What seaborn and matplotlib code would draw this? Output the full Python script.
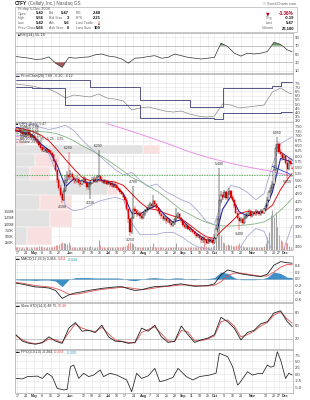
import numpy as np
import pandas as pd
import matplotlib
matplotlib.use("Agg")
import matplotlib.pyplot as plt
from matplotlib.ticker import NullLocator, NullFormatter
from matplotlib.patches import Rectangle
import seaborn as sns

sns.set_theme(style="white")
plt.rcParams['font.family'] = ['Liberation Sans', 'DejaVu Sans']

# ---------------- data ----------------
dates = pd.bdate_range("2008-04-16", "2008-12-05")

opens = [7.35,7.30,7.25,7.35,7.20,7.10,7.15,7.05,7.20,7.10,6.95,
         7.00,6.90,6.80,6.70,6.55,6.45,6.25,6.35,6.20,6.30,6.25,6.15,
         6.05,5.80,5.40,5.00,4.70,4.50,4.30,4.60,5.00,5.20,5.10,
         5.25,5.10,5.00,4.95,5.05,4.90,4.85,4.95,5.05,4.90,4.75,4.80,4.90,5.00,5.05,4.95,5.10,5.15,
         5.05,5.00,4.90,4.95,4.85,4.90,4.80,4.85,4.75,
         4.80,4.70,4.65,4.55,4.50,4.40,
         4.30,4.00,3.70,3.35,3.75,
         4.00,3.95,3.85,3.90,3.80,3.75,3.85,
         3.95,4.00,4.05,4.15,4.10,4.25,4.15,
         4.05,3.95,3.85,3.80,3.70,3.75,3.65,3.70,3.60,3.55,
         3.60,3.70,3.80,3.85,3.75,
         3.65,3.55,3.50,3.52,3.45,3.40,3.42,3.35,3.30,3.25,3.28,3.20,
         3.15,3.20,3.15,3.10,3.18,3.12,3.15,
         3.10,3.20,3.45,3.70,4.30,4.45,4.40,4.55,4.35,4.50,4.60,4.40,
         4.30,4.10,3.90,3.75,3.65,3.70,3.60,3.75,
         3.80,3.85,3.95,3.80,3.90,3.85,3.95,3.90,3.85,3.95,3.90,
         4.00,4.10,4.30,4.55,4.70,
         4.85,5.40,6.40,6.60,
         6.20,6.10,5.90,6.00,5.70,5.45,5.80,5.42]
highs = [7.45,7.40,7.45,7.40,7.25,7.25,7.20,7.30,7.25,7.15,7.10,
         7.05,6.95,6.85,6.75,6.60,6.50,6.45,6.40,6.40,6.35,6.30,6.20,
         6.10,5.85,5.45,5.05,4.80,4.55,4.70,5.20,5.35,6.20,5.40,
         5.30,5.15,5.10,5.15,5.10,4.95,5.05,5.15,5.10,4.95,4.90,4.95,5.10,5.15,5.10,5.20,6.29,5.20,
         5.10,5.05,5.05,5.00,5.00,4.95,4.95,4.90,4.90,
         4.85,4.78,4.70,4.60,4.55,4.45,
         4.35,4.05,3.75,3.85,4.78,
         4.10,4.00,3.98,3.95,3.85,3.92,4.02,
         4.08,4.12,4.22,4.20,4.45,4.30,4.18,
         4.08,3.98,3.90,3.85,3.80,3.78,3.75,3.72,3.65,3.65,
         3.75,4.05,3.92,3.88,3.78,
         3.68,3.58,3.58,3.55,3.50,3.48,3.45,3.38,3.33,3.32,3.30,3.23,
         3.25,3.24,3.18,3.22,3.20,3.20,3.18,
         3.30,3.55,3.80,5.48,4.60,4.55,4.65,4.60,4.60,4.70,4.65,4.45,
         4.35,4.15,3.95,3.80,3.78,3.75,3.82,3.88,
         3.92,4.02,3.98,3.96,3.94,4.00,3.98,3.94,4.00,3.98,4.05,
         4.18,4.38,4.62,4.80,4.95,
         5.60,6.60,6.95,6.70,
         6.35,6.15,6.10,6.05,5.75,5.90,5.90,5.56]
lows = [7.20,7.15,7.20,7.10,7.00,7.05,6.95,7.00,7.00,6.90,6.90,
        6.80,6.70,6.60,6.45,6.30,6.20,6.20,6.15,6.15,6.10,6.05,5.95,
        5.70,5.30,4.90,4.60,4.35,4.19,4.25,4.55,4.90,5.00,5.00,
        5.00,4.90,4.85,4.90,4.80,4.75,4.80,4.90,4.85,4.65,4.65,4.33,4.85,4.95,4.90,4.90,5.05,4.95,
        4.90,4.85,4.85,4.80,4.80,4.75,4.75,4.70,4.70,
        4.65,4.60,4.50,4.45,4.35,4.20,
        3.95,3.60,3.25,3.30,3.70,
        3.85,3.78,3.80,3.72,3.68,3.70,3.80,
        3.90,3.95,4.00,4.02,4.05,4.08,3.98,
        3.88,3.80,3.72,3.65,3.65,3.58,3.60,3.55,3.50,3.50,
        3.55,3.65,3.75,3.70,3.60,
        3.50,3.45,3.45,3.40,3.35,3.35,3.30,3.25,3.20,3.20,3.15,3.10,
        3.10,3.08,3.05,3.06,3.06,3.08,3.04,
        3.06,3.18,3.40,3.65,4.20,4.30,4.35,4.30,4.30,4.45,4.35,4.22,
        4.05,3.85,3.68,3.40,3.60,3.55,3.58,3.70,
        3.75,3.80,3.75,3.76,3.80,3.80,3.84,3.80,3.80,3.85,3.86,
        3.95,4.05,4.25,4.45,4.60,
        4.80,5.35,6.20,6.10,
        5.95,5.80,5.85,5.60,5.05,5.40,5.55,5.42]
closes = [7.30,7.25,7.35,7.20,7.10,7.15,7.05,7.20,7.10,6.95,7.00,
          6.90,6.80,6.70,6.55,6.40,6.30,6.35,6.25,6.30,6.20,6.15,6.05,
          5.80,5.40,5.00,4.70,4.45,4.30,4.60,5.00,5.20,5.10,5.25,
          5.10,5.00,4.95,5.05,4.90,4.85,4.95,5.05,4.90,4.75,4.80,4.90,5.00,5.05,4.95,5.10,5.15,5.05,
          5.00,4.90,4.95,4.85,4.90,4.80,4.85,4.75,4.80,
          4.70,4.65,4.55,4.50,4.40,4.30,
          4.00,3.70,3.35,3.75,4.00,
          3.95,3.85,3.90,3.80,3.75,3.85,3.95,
          4.00,4.05,4.15,4.10,4.25,4.15,4.05,
          3.95,3.85,3.80,3.70,3.75,3.65,3.70,3.60,3.55,3.60,
          3.70,3.80,3.85,3.75,3.65,
          3.55,3.50,3.52,3.45,3.40,3.42,3.35,3.30,3.25,3.28,3.20,3.15,
          3.20,3.15,3.10,3.18,3.12,3.15,3.10,
          3.20,3.45,3.70,4.30,4.45,4.40,4.55,4.35,4.50,4.60,4.40,4.30,
          4.10,3.90,3.75,3.65,3.70,3.60,3.75,3.80,
          3.85,3.95,3.80,3.90,3.85,3.95,3.90,3.85,3.95,3.90,4.00,
          4.10,4.30,4.55,4.70,4.85,
          5.40,6.40,6.60,6.20,
          6.10,5.90,6.00,5.70,5.45,5.80,5.66,5.47]
volume_k = [120,90,110,80,100,70,90,110,80,95,70,
            85,100,90,130,150,110,90,80,95,100,85,120,
            150,200,180,220,260,300,250,280,220,320,180,
            120,100,90,80,110,100,90,85,95,120,100,150,90,80,100,120,380,200,
            110,90,80,100,85,90,100,80,95,
            100,90,110,120,130,150,
            200,260,300,280,220,
            150,120,100,90,110,100,90,
            100,120,150,110,250,120,100,
            90,100,110,90,80,100,90,85,95,100,
            110,250,120,100,90,
            100,90,80,95,110,90,100,120,110,90,100,130,
            120,500,150,110,100,120,140,
            200,450,800,1100,600,300,250,200,220,180,200,150,
            160,180,200,250,150,130,120,110,
            100,110,90,100,120,110,100,90,110,100,150,
            250,500,700,1400,1600,
            1300,1500,900,600,
            400,350,150,300,250,150,100,23.1]

# indicator lines sampled every 5 sessions (plus the last session)
g5 = list(range(0, 166, 5)) + [167]
ema9 = [7.28,7.18,7.05,6.60,6.28,5.60,4.75,5.05,4.95,4.88,5.02,4.93,4.82,4.50,3.88,3.86,4.00,4.12,
        3.82,3.62,3.70,3.48,3.30,3.16,3.15,4.00,4.42,3.92,3.80,3.89,3.94,4.55,5.90,5.78,5.66]
ma20 = [7.45,7.38,7.25,7.05,6.75,6.30,5.85,5.45,5.10,4.98,4.97,4.96,4.92,4.80,4.50,4.22,4.02,3.98,
        3.88,3.80,3.72,3.55,3.38,3.24,3.20,3.42,3.62,3.86,3.94,3.90,3.93,4.12,4.65,5.10,5.25]
ma50 = [7.33,7.30,7.27,7.24,7.20,7.12,6.95,6.75,6.50,6.30,6.08,5.85,5.60,5.35,5.10,4.95,4.78,4.60,
        4.40,4.18,3.98,3.85,3.72,3.62,3.55,3.52,3.52,3.53,3.55,3.58,3.63,3.76,3.97,4.22,4.35]
ma200 = [np.nan]*11 + [7.70,7.55,7.40,7.25,7.10,6.95,6.80,6.65,6.50,6.35,6.20,6.08,5.97,5.86,
                       5.77,5.68,5.60,5.53,5.46,5.40,5.33,5.25,5.18,5.15]
bb_up = [7.75,7.70,7.62,7.48,7.35,7.45,7.60,7.30,6.80,6.40,6.05,5.72,5.42,5.20,5.30,5.00,4.75,4.85,
         4.60,4.45,4.30,4.20,3.95,3.65,3.55,4.40,4.80,4.72,4.55,4.30,4.50,5.60,6.60,6.85,6.95]
bb_lo = [7.05,7.00,6.85,6.55,6.10,5.20,4.10,3.95,4.00,4.12,4.25,4.32,4.38,4.30,3.60,3.30,3.30,3.30,
         3.35,3.35,3.25,3.10,3.00,2.96,2.92,2.60,2.55,2.95,3.25,3.45,3.38,2.90,2.75,3.30,3.55]
# second panel (price channel)
pc_up = [7.80]*9 + [7.03]*6 + [5.49]*6 + [4.66]*4 + [6.91]*6 + [7.14] + [7.68]*3
pc_lo = [7.03,6.97,6.91,6.91,6.91,6.91] + [4.89]*9 + [3.41]*9 + [3.23] + [3.95]*7 + [4.12]*3
pc_px = [7.38,7.26,7.14,6.91,6.79,6.32,5.72,6.08,5.96,5.84,6.20,5.72,5.60,5.37,4.30,4.54,4.66,4.42,
         4.18,4.06,4.18,3.83,3.59,3.47,3.59,5.01,4.89,4.54,4.66,4.77,4.89,6.43,6.91,6.32,6.20]

# oscillators sampled every 4 sessions (plus the last session)
g4 = list(range(0, 165, 4)) + [167]
rsi = [44,42,40,37,38,43,28,18,42,40,42,43,48,50,45,43,38,28,40,41,44,46,40,42,50,46,42,40,38,40,42,
       76,68,52,45,52,50,52,56,78,73,60,55.18]
macd = [-0.12,-0.15,-0.19,-0.23,-0.24,-0.26,-0.33,-0.56,-0.46,-0.40,-0.37,-0.33,-0.30,-0.27,-0.25,
        -0.23,-0.22,-0.28,-0.33,-0.31,-0.26,-0.22,-0.21,-0.20,-0.16,-0.14,-0.18,-0.21,-0.20,-0.19,
        -0.14,0.12,0.26,0.21,0.15,0.12,0.09,0.07,0.14,0.40,0.50,0.47,0.455]
macd_sig = [-0.10,-0.12,-0.16,-0.19,-0.21,-0.23,-0.27,-0.34,-0.44,-0.44,-0.41,-0.37,-0.33,-0.30,-0.28,
            -0.26,-0.24,-0.25,-0.28,-0.30,-0.29,-0.26,-0.23,-0.21,-0.19,-0.17,-0.17,-0.19,-0.20,-0.20,
            -0.18,-0.08,0.10,0.17,0.17,0.14,0.11,0.08,0.09,0.20,0.34,0.42,0.411]
sto_k = [30,15,10,8,12,25,15,10,45,58,38,40,35,52,25,15,14,10,12,45,38,52,25,12,15,50,30,12,18,22,30,
         70,60,45,18,35,40,55,60,80,85,60,48.75]
sto_d = [28,18,12,9,11,20,18,12,35,55,45,40,37,47,32,18,15,12,11,35,42,48,32,16,14,40,36,16,16,20,27,
         60,64,50,25,30,38,50,58,75,83,66,56.48]
ppo_idx = [0,4,7,13,16,19,22,25,29,31,33,35,38,41,44,47,51,53,57,61,67,70,73,76,80,84,87,91,95,98,
           103,107,111,117,121,123,128,131,134,135,140,143,147,149,152,154,156,158,160,163,165,167]
ppo_val = [-1.6,-1.8,-0.9,-0.7,-1.6,0.4,-0.9,-5.5,-6.1,-5.9,3.0,3.6,-1.6,0.4,-0.9,-0.3,1.7,-0.9,0.4,
           -0.3,-2.2,-6.8,0.4,-1.6,-0.6,2.3,-2.9,-2.2,-1.2,2.3,-0.9,-2.2,-0.9,-0.3,0.4,8.2,6.9,3.0,
           -4.2,-3.6,1.0,-0.3,0.4,0.2,3.6,2.8,3.2,8.8,5.6,-1.6,0.4,-0.304]

# volume-by-price zones (price range, down volume, up volume in millions)
vbp_lo = [6.54, 6.10, 5.53, 5.00, 4.46, 3.98, 3.50, 3.05]
vbp_hi = [6.95, 6.54, 6.10, 5.53, 5.00, 4.46, 3.98, 3.50]
vbp_dn = [0.00, 5.52, 0.86, 0.65, 4.01, 1.08, 1.51, 0.52]
vbp_up = [0.43, 0.73, 1.08, 0.86, 0.43, 1.38, 0.95, 1.08]

support_level = 5.2
trend_a_idx, trend_a_val = [160, 168], [6.20, 5.78]
trend_b_idx, trend_b_val = [155, 166], [5.55, 5.22]
hl_idx = [28, 32, 45, 50, 69, 71, 123, 135, 158, 164]
hl_kind = ['L', 'H', 'L', 'H', 'L', 'H', 'H', 'L', 'H', 'L']

tick_dates = ["2008-04-17","2008-04-24","2008-05-01","2008-05-08","2008-05-15","2008-05-22",
              "2008-06-02","2008-06-12","2008-06-19","2008-06-26","2008-07-03","2008-07-10",
              "2008-07-17","2008-07-24","2008-08-01","2008-08-07","2008-08-14","2008-08-21",
              "2008-08-28","2008-09-04","2008-09-11","2008-09-18","2008-09-25","2008-10-01",
              "2008-10-09","2008-10-16","2008-10-23","2008-11-03","2008-11-13","2008-11-20",
              "2008-11-25","2008-12-01"]
tick_labels = ["17","24","May","8","15","22","Jun","12","19","26","Jul","10","17","24","Aug","7",
               "14","21","28","Sep","11","18","25","Oct","9","16","23","Nov","13","20","27","Dec"]

N = len(dates)
for nm, arr in [("opens", opens), ("highs", highs), ("lows", lows), ("closes", closes), ("vol", volume_k)]:
    if len(arr) != N:
        raise SystemExit(f"{nm} has {len(arr)} values, expected {N}")

o = np.array(opens); h = np.array(highs); l = np.array(lows); c = np.array(closes)
vol = np.array(volume_k) * 1000
idx = np.arange(N)
tick_idx = dates.get_indexer(pd.to_datetime(tick_dates))

# ---------------- layout ----------------
W, H = 310, 400
XL, XR = 15, 293
fig = plt.figure(figsize=(W / 100, H / 100), dpi=100)
fig.patch.set_facecolor('white')
GRID = '#e3e3e3'
TXT = '#333333'
FS = 3.0
DFS = 2.6

def add_panel(y0, y1):
    ax = fig.add_axes([XL / W, 1 - y1 / H, (XR - XL) / W, (y1 - y0) / H])
    ax.set_facecolor('white')
    ax.set_xlim(-0.5, N - 0.5)
    for s in ax.spines.values():
        s.set_color('#a8a8a8'); s.set_linewidth(0.5)
    ax.yaxis.tick_right()
    ax.tick_params(axis='both', length=0, labelsize=FS, pad=1.5, colors=TXT)
    ax.set_xticks([])
    for t in tick_idx:
        ax.axvline(t, color=GRID, lw=0.4, zorder=0)
    return ax

def yaxis(ax, ticks, labels, lim, dark=()):
    ax.set_ylim(*lim)
    ax.set_yticks(ticks)
    ax.set_yticklabels(labels)
    ax.yaxis.set_minor_locator(NullLocator())
    ax.yaxis.set_minor_formatter(NullFormatter())
    for v in ticks:
        ax.axhline(v, color=GRID, lw=0.4, zorder=0)
    for v in dark:
        ax.axhline(v, color='#b4b4b4', lw=0.5, zorder=0.3)

def line(ax, x, y, color, lw=0.6, **kw):
    sns.lineplot(x=np.asarray(x, dtype=float), y=np.asarray(y, dtype=float), ax=ax,
                 color=color, linewidth=lw, legend=False, **kw)

def date_labels(ax, frac):
    for t, lab in zip(tick_idx, tick_labels):
        ax.text(t, frac, lab, transform=ax.get_xaxis_transform(), ha='center', va='center',
                fontsize=DFS, color=TXT, fontweight='bold' if lab.isalpha() else 'normal')

# ---- RSI panel ----
ax_rsi = add_panel(32.5, 72.5)
yaxis(ax_rsi, [10, 30, 50, 70, 90], ["10", "30", "50", "70", "90"], (5.7, 101.5), dark=(30, 70))
r = np.array(rsi, dtype=float)
ax_rsi.fill_between(g4, r, 30, where=r < 30, interpolate=True, color='#a45a5a', lw=0, zorder=1)
ax_rsi.fill_between(g4, r, 70, where=r > 70, interpolate=True, color='#6a9c6a', lw=0, zorder=1)
line(ax_rsi, g4, rsi, '#333333', lw=0.5)

# ---- price channel panel ----
ax_pc = add_panel(74, 122)
pct = [3.0, 3.5, 4.0, 4.5, 5.0, 5.5, 6.0, 6.5, 7.0, 7.5]
yaxis(ax_pc, pct, [f"{v:.1f}" for v in pct], (2.88, 8.57))
line(ax_pc, g5, pc_px, '#8a8a8a', lw=0.5)
line(ax_pc, g5, pc_up, '#3c3c70', lw=0.6, drawstyle='steps-post')
line(ax_pc, g5, pc_lo, '#3c3c70', lw=0.6, drawstyle='steps-post')

# ---- main price panel ----
ax = add_panel(122, 249.5)
ax.set_yscale('log')
pt = [3.00,3.25,3.50,3.75,4.00,4.25,4.50,4.75,5.00,5.25,5.50,5.75,6.00,6.25,6.50,6.75,7.00,7.25,7.50]
yaxis(ax, pt, [f"{v:.2f}" for v in pt], (2.94, 7.79))
ax.tick_params(axis='y', labelsize=2.8)
# volume by price
full_vbp = 12.0
lo_a = np.array(vbp_lo); hi_a = np.array(vbp_hi)
ax.barh(lo_a, np.array(vbp_dn) / full_vbp, height=hi_a - lo_a, left=0, align='edge',
        color='#e2e2e2', edgecolor='white', linewidth=0.3, transform=ax.get_yaxis_transform(), zorder=0.5)
ax.barh(lo_a, np.array(vbp_up) / full_vbp, height=hi_a - lo_a, left=np.array(vbp_dn) / full_vbp,
        align='edge', color='#f9e0e0', edgecolor='white', linewidth=0.3,
        transform=ax.get_yaxis_transform(), zorder=0.5)
# volume bars
vmax = 5.1e6
prev = np.r_[o[0], c[:-1]]
down = c < prev
ax.vlines(idx, 0, vol / vmax, colors=np.where(down, '#e59a9a', '#a6a6a6'), lw=0.8,
          transform=ax.get_xaxis_transform(), zorder=1)
# indicator lines
line(ax, g5, bb_up, '#a9a9d6', lw=0.6)
line(ax, g5, bb_lo, '#a9a9d6', lw=0.6)
line(ax, g5, ma200, '#ea92ea', lw=0.7)
line(ax, g5, ma50, '#86b486', lw=0.6)
line(ax, g5, ma20, '#e01515', lw=0.7)
line(ax, g5, ema9, '#2828a8', lw=0.8)
ax.axhline(support_level, color='#2e9a2e', lw=0.6, ls=(0, (1, 1)), zorder=2)
line(ax, trend_a_idx, trend_a_val, '#2244e6', lw=0.6)
line(ax, trend_b_idx, trend_b_val, '#2244e6', lw=0.6)
# candles
ccol = np.where(down, '#dd0000', '#000000')
ax.vlines(idx, l, h, colors=ccol, lw=0.35, zorder=3)
body_lo = np.minimum(o, c)
body_h = np.maximum(np.abs(c - o), 0.012)
face = np.where(c > o, 'white', ccol)
ax.bar(idx, body_h, bottom=body_lo, width=0.7, color=face, edgecolor=ccol, linewidth=0.3, zorder=4)
for i, k in zip(hl_idx, hl_kind):
    if k == 'H':
        ax.annotate(f"{h[i]:.3f}", (i, h[i]), xytext=(0, 1.2), textcoords='offset points',
                    ha='center', va='bottom', fontsize=2.5, color=TXT, zorder=6)
    else:
        ax.annotate(f"{l[i]:.3f}", (i, l[i]), xytext=(0, -1.2), textcoords='offset points',
                    ha='center', va='top', fontsize=2.5, color=TXT, zorder=6)
for v, lab in [(1.5e6, "1.50M"), (1.25e6, "1.25M"), (1.0e6, "1.00M"), (0.75e6, "750K"),
               (0.5e6, "500K"), (0.25e6, "250K")]:
    ax.text(-0.004, v / vmax, lab, transform=ax.transAxes, ha='right', va='center',
            fontsize=2.7, color=TXT)
ax.set_ylim(2.94, 7.79)
date_labels(ax, -3.2 / 127.5)

# ---- MACD panel ----
ax_m = add_panel(256, 302)
mt = [-0.6, -0.4, -0.2, 0.0, 0.2, 0.4]
yaxis(ax_m, mt, [f"{v:.1f}" for v in mt], (-0.663, 0.663), dark=(0.0,))
hist = np.array(macd) - np.array(macd_sig)
ax_m.fill_between(g4, hist, 0, color='#3d8fc6', lw=0, zorder=1)
line(ax_m, g4, macd_sig, '#e05050', lw=0.6)
line(ax_m, g4, macd, '#222222', lw=0.6)

# ---- Slow stochastic panel ----
ax_s = add_panel(303, 349)
yaxis(ax_s, [20, 50, 80], ["20", "50", "80"], (-3.08, 103.07), dark=(20, 80))
line(ax_s, g4, sto_d, '#e05050', lw=0.6)
line(ax_s, g4, sto_k, '#222222', lw=0.6)

# ---- PPO panel ----
ax_p = add_panel(350, 393)
ppt = [-5.0, -2.5, 0.0, 2.5, 5.0, 7.5]
yaxis(ax_p, ppt, [f"{v:.1f}" for v in ppt], (-7.30, 9.49))
line(ax_p, ppo_idx, ppo_val, '#222222', lw=0.55)
date_labels(ax_p, -3.4 / 43)

# ---------------- overlay text ----------------
ov = fig.add_axes([0, 0, 1, 1])
ov.set_xlim(0, W); ov.set_ylim(H, 0); ov.axis('off'); ov.set_zorder(10); ov.patch.set_alpha(0)

def chain(x, y, parts, fs=FS):
    t = ov.text(x, y, parts[0][0], color=parts[0][1], fontsize=fs, va='center', ha='left',
                fontweight=parts[0][2] if len(parts[0]) > 2 else 'normal')
    for p in parts[1:]:
        t = ov.annotate(p[0], xy=(1, 0.5), xycoords=t, va='center', ha='left', color=p[1], fontsize=fs,
                        fontweight=p[2] if len(p) > 2 else 'normal')
    return t

chain(15, 3.6, [("CTFY", '#111111', 'bold'), (" (Cellufy, Inc.) Nasdaq GS", '#555555')], fs=3.3)
ov.text(296, 3.6, "© StockCharts.com", ha='right', va='center', fontsize=2.8, color='#666666')
ov.add_patch(Rectangle((15, 6.5), 282, 25.5, facecolor='white', edgecolor='#a0a0a0', lw=0.4))
ov.text(18, 9.2, "Friday 5-Dec-2008", fontsize=2.8, va='center', color='#555555')
rows_y = [13.5, 18.4, 23.3, 28.2]
col1 = [("Open", "5.42"), ("High", "5.56"), ("Low", "5.42"), ("Prev Close", "5.66")]
col2 = [("Bid", "5.47"), ("Bid Size", "3"), ("Ask", "5.6"), ("Ask Size", "6")]
col3 = [("P/E", "2.48"), ("EPS", "2.21"), ("Last Trade", ""), ("Last Size", "100")]
for yy, a, b, d in zip(rows_y, col1, col2, col3):
    ov.text(18, yy, a[0], fontsize=2.6, va='center', color='#666666')
    ov.text(44, yy, a[1], fontsize=3.0, va='center', ha='right', color='#111111', fontweight='bold')
    ov.text(49, yy, b[0], fontsize=2.6, va='center', color='#666666')
    ov.text(69, yy, b[1], fontsize=3.0, va='center', ha='right', color='#111111', fontweight='bold')
    ov.text(76, yy, d[0], fontsize=2.6, va='center', color='#666666')
    ov.text(101, yy, d[1], fontsize=3.0, va='center', ha='right', color='#111111', fontweight='bold')
ov.text(100, rows_y[2], "↓", fontsize=3.4, va='center', ha='right', color='#cc0000', fontweight='bold',
        family=['DejaVu Sans'])
ov.text(266, rows_y[0], "▼", fontsize=3.4, va='center', color='#aa0022', family=['DejaVu Sans'])
ov.text(294, rows_y[0], "-3.36%", fontsize=3.3, va='center', ha='right', color='#aa0022', fontweight='bold')
for yy, lab, val in [(rows_y[1], "Chg", "-0.19"), (rows_y[2], "Last", "5.47"), (rows_y[3], "Volume", "23,100")]:
    ov.text(266 if lab != "Volume" else 262, yy, lab, fontsize=2.6, va='center', color='#666666')
    ov.text(294, yy, val, fontsize=3.0, va='center', ha='right', color='#111111', fontweight='bold')

# panel legends
chain(16, 34.6, [("▲", '#222222'), ("RSI(14) 55.18", '#333333')], fs=2.8)
chain(16, 76.4, [("▬", '#3c3c70'), (f" PriceChan(20) {pc_up[-1]:.2f} - {pc_px[-1]:.2f} - {pc_lo[-1]:.2f}", '#333333')], fs=2.6)
leg = [("■", '#000000', f" CTFY (Daily) {c[-1]:.2f}"),
       ("▬", '#2828a8', f" EMA(9) {ema9[-1]:.2f}"),
       ("▬", '#e01515', f" MA(20) {ma20[-1]:.2f}"),
       ("▬", '#86b486', f" MA(50) {ma50[-1]:.2f}"),
       ("▬", '#ea92ea', f" MA(200) {ma200[-1]:.2f}"),
       ("▬", '#a9a9d6', f" BB(20,2.0) {bb_up[-1]:.2f} - {ma20[-1]:.2f} - {bb_lo[-1]:.2f}"),
       ("■", '#a6a6a6', f" Volume {volume_k[-1]*1000:,.0f}")]
for k, (mk, col, txt) in enumerate(leg):
    chain(16, 124.3 + k * 2.9, [(mk, col), (txt, '#333333')], fs=2.4)
chain(16, 259.2, [("▬", '#222222'), (f" MACD(12,26,9) {macd[-1]:.3f}, ", '#333333'),
                  (f"{macd_sig[-1]:.3f}", '#e05050'), (f", {hist[-1]:.3f}", '#2a9ab0')], fs=2.6)
chain(16, 305.6, [("▬", '#222222'), (f" Slow STO(14,3) {sto_k[-1]:.2f}, ", '#333333'),
                  (f"{sto_d[-1]:.2f}", '#e05050')], fs=2.6)
chain(16, 352.4, [("▬", '#222222'), (f" PPO(3,9,13) {ppo_val[-1]:.3f}, ", '#333333'),
                  ("-0.204", '#e05050'), (", -0.100", '#2a9ab0')], fs=2.6)

fig.savefig("out.png", dpi=100, facecolor='white')
